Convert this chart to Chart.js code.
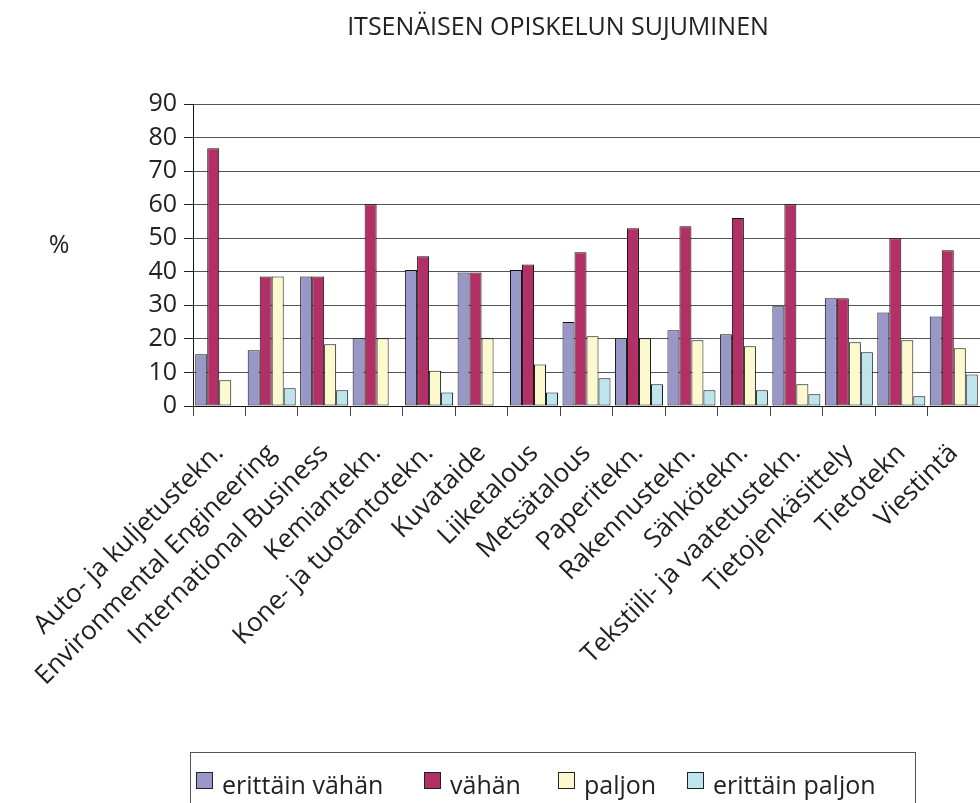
<!DOCTYPE html>
<html>
<head>
<meta charset="utf-8">
<script src="https://cdn.jsdelivr.net/npm/chart.js"></script>
<style>
  html, body { margin: 0; padding: 0; background: #fff; }
  #wrap { width: 980px; height: 803px; }
</style>
</head>
<body>
<div id="wrap"><canvas id="myChart" width="980" height="803"></canvas></div>
<script>
const title = 'ITSENÄISEN OPISKELUN SUJUMINEN';
const yTitle = '%';
const categories = ['Auto- ja kuljetustekn.', 'Environmental Engineering', 'International Business', 'Kemiantekn.',
  'Kone- ja tuotantotekn.', 'Kuvataide', 'Liiketalous', 'Metsätalous', 'Paperitekn.', 'Rakennustekn.',
  'Sähkötekn.', 'Tekstiili- ja vaatetustekn.', 'Tietojenkäsittely', 'Tietotekn', 'Viestintä'];
const seriesNames = ['erittäin vähän', 'vähän', 'paljon', 'erittäin paljon'];
const erittainVahan = [15.4, 16.6, 38.6, 20.2, 40.5, 39.8, 40.5, 25.0, 20.2, 22.6, 21.4, 29.7, 32.1, 27.9, 26.7];
const vahan = [76.8, 38.6, 38.6, 60.1, 44.6, 39.8, 42.2, 45.8, 53.0, 53.6, 56.0, 60.1, 32.1, 50.0, 46.4];
const paljon = [7.7, 38.6, 18.4, 20.2, 10.5, 20.2, 12.4, 20.8, 20.2, 19.6, 17.8, 6.5, 19.0, 19.6, 17.2];
const erittainPaljon = [0, 5.3, 4.7, 0, 4.0, 0, 4.0, 8.3, 6.5, 4.7, 4.7, 3.5, 16.0, 2.9, 9.4];
const yTicks = [0, 10, 20, 30, 40, 50, 60, 70, 80, 90];

const colors = ['#9897c8', '#b23066', '#fdf9ce', '#bfe5ec'];
const FONT = '"Open Sans", "DejaVu Sans", sans-serif';

// otsikko, %-merkki ja legenda piirretään itse
const extras = {
  id: 'extras',
  afterDraw(chart) {
    const ctx = chart.ctx;
    ctx.save();
    ctx.fillStyle = '#222';
    ctx.textBaseline = 'middle';
    ctx.textAlign = 'center';
    ctx.font = '25px ' + FONT;
    ctx.fillText(title, 558, 28);
    ctx.fillText(yTitle, 59, 246);

    // legenda
    ctx.strokeStyle = '#555';
    ctx.lineWidth = 1;
    ctx.strokeRect(190.5, 752.5, 725, 70);
    const boxX = [196, 424, 558, 687];
    ctx.textAlign = 'left';
    ctx.textBaseline = 'alphabetic';
    ctx.font = '25px ' + FONT;
    chart.data.datasets.forEach((ds, i) => {
      ctx.fillStyle = ds.backgroundColor;
      ctx.fillRect(boxX[i] + 0.5, 772.5, 16, 16);
      ctx.strokeStyle = '#222';
      ctx.strokeRect(boxX[i] + 0.5, 772.5, 16, 16);
      ctx.fillStyle = '#222';
      ctx.fillText(ds.label, boxX[i] + 26, 794);
    });
    ctx.restore();
  }
};

const series = [erittainVahan, vahan, paljon, erittainPaljon];
const ctx = document.getElementById('myChart').getContext('2d');
const myChart = new Chart(ctx, {
  type: 'bar',
  data: {
    labels: categories,
    datasets: series.map((d, i) => ({
      label: seriesNames[i],
      data: d,
      backgroundColor: colors[i],
      borderColor: '#111',
      borderWidth: 1,
      borderSkipped: false,
      categoryPercentage: 0.915,
      barPercentage: 1
    }))
  },
  options: {
    responsive: false,
    animation: false,
    layout: { padding: { top: 104, left: 0, right: 0, bottom: 0 } },
    plugins: { legend: { display: false }, title: { display: false }, tooltip: { enabled: false } },
    scales: {
      x: {
        afterFit(scale) {
          scale.height = 397;
          scale.paddingLeft = 0;
          scale.paddingRight = 0;
        },
        grid: { drawOnChartArea: false, drawTicks: true, tickLength: 10, tickColor: '#444', offset: true },
        border: { display: true, color: '#111' },
        ticks: {
          autoSkip: false, minRotation: 45, maxRotation: 45, padding: 22,
          color: '#222', font: { family: FONT, size: 26 }
        }
      },
      y: {
        min: 0, max: 90,
        afterFit(scale) { scale.width = 193; },
        afterBuildTicks(scale) { scale.ticks = yTicks.map(v => ({ value: v })); },
        grid: { color: '#555', tickColor: '#222', tickLength: 9, lineWidth: 1 },
        border: { display: true, color: '#111' },
        ticks: { padding: 7, color: '#222', font: { family: FONT, size: 25 } }
      }
    }
  },
  plugins: [extras]
});
</script>
</body>
</html>
